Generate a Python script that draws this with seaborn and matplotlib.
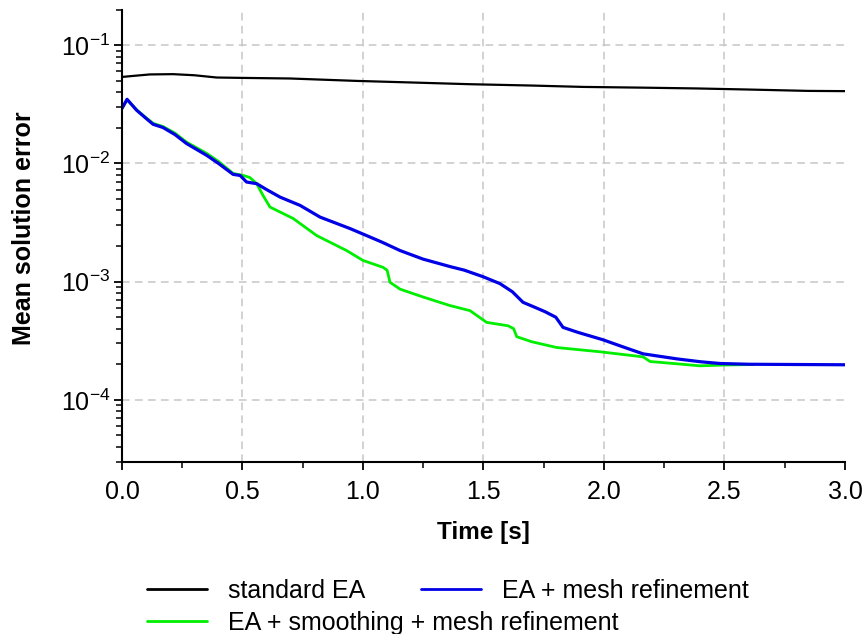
import matplotlib
matplotlib.use("Agg")
import matplotlib.pyplot as plt
import matplotlib.ticker as mticker
import numpy as np
import pandas as pd
import seaborn as sns

# ---- data ----
t_std = [0.0, 0.06, 0.116, 0.212, 0.30, 0.393, 0.502, 0.697, 0.974, 1.20, 1.444, 1.70, 1.913, 2.15, 2.385, 2.60, 2.846, 3.0]
e_std = [0.0538, 0.0552, 0.0565, 0.0568, 0.0556, 0.0532, 0.0528, 0.0522, 0.0498, 0.0483, 0.0467, 0.0455, 0.0443, 0.0437, 0.0430, 0.0421, 0.0410, 0.0408]

t_mesh = [0.0, 0.021, 0.061, 0.10, 0.129, 0.170, 0.22, 0.268, 0.351, 0.40, 0.461, 0.49, 0.517, 0.559,
          0.60, 0.656, 0.739, 0.822, 0.946, 1.015, 1.08, 1.154, 1.249, 1.361, 1.42, 1.498, 1.568,
          1.62, 1.664, 1.71, 1.755, 1.80, 1.830, 1.892, 1.996, 2.08, 2.162, 2.303, 2.40, 2.481, 2.60, 2.80, 3.0]
e_mesh = [0.0292, 0.0348, 0.0281, 0.0240, 0.0214, 0.0201, 0.0175, 0.0147, 0.0117, 0.0100, 0.00807, 0.00790, 0.00695, 0.00673,
          0.00600, 0.00518, 0.00441, 0.00351, 0.00281, 0.00245, 0.00215, 0.00183, 0.00155, 0.00134, 0.00125, 0.00110, 0.000962,
          0.000820, 0.000668, 0.000610, 0.000557, 0.000500, 0.000410, 0.000372, 0.000322, 0.000280, 0.000245, 0.000222, 0.000210, 0.000203, 0.000200, 0.000199, 0.000198]

t_smooth = [0.0, 0.021, 0.061, 0.10, 0.129, 0.170, 0.22, 0.268, 0.351, 0.40, 0.461, 0.502, 0.530, 0.559,
            0.585, 0.614, 0.710, 0.808, 0.932, 1.0, 1.083, 1.100, 1.112, 1.154, 1.25, 1.361, 1.444,
            1.513, 1.602, 1.625, 1.638, 1.70, 1.804, 1.983, 2.162, 2.191, 2.30, 2.398, 2.50, 2.62]
e_smooth = [0.0292, 0.0345, 0.0283, 0.0243, 0.0218, 0.0205, 0.0180, 0.0151, 0.01216, 0.0104, 0.00822, 0.00791, 0.00760, 0.00673,
            0.00536, 0.00427, 0.00342, 0.00245, 0.00183, 0.00151, 0.00132, 0.00125, 0.000987, 0.000863, 0.000740, 0.000627, 0.000568,
            0.000452, 0.000423, 0.000400, 0.000342, 0.000310, 0.000277, 0.000255, 0.000231, 0.000211, 0.000202, 0.000194, 0.000197, 0.000199]

labels = ["standard EA", "EA + smoothing + mesh refinement", "EA + mesh refinement"]
colors = ["#000000", "#00EE00", "#0000E6"]

df = pd.concat([
    pd.DataFrame({"Time": t_std, "Error": e_std, "Method": labels[0]}),
    pd.DataFrame({"Time": t_smooth, "Error": e_smooth, "Method": labels[1]}),
    pd.DataFrame({"Time": t_mesh, "Error": e_mesh, "Method": labels[2]}),
], ignore_index=True)

sns.set_style("ticks")
plt.rcParams["font.family"] = ["Liberation Sans", "DejaVu Sans"]
plt.rcParams["mathtext.fontset"] = "custom"
plt.rcParams["mathtext.rm"] = "Liberation Sans"
plt.rcParams["mathtext.it"] = "Liberation Sans:italic"
plt.rcParams["mathtext.bf"] = "Liberation Sans:bold"
for k in ["text.color", "axes.labelcolor", "xtick.color", "ytick.color", "axes.edgecolor"]:
    plt.rcParams[k] = "black"

fig = plt.figure(figsize=(8.64, 6.34), dpi=100)
ax = fig.add_axes([0.1412, 0.2718, 0.8368, 0.7132])

palette = dict(zip(labels, colors))
sns.lineplot(data=df, x="Time", y="Error", hue="Method", hue_order=labels,
             palette=palette, ax=ax, estimator=None, sort=False, legend=False,
             linewidth=2.0)
ax.lines[0].set_linewidth(1.6)
ax.lines[2].set_linewidth(2.3)

ax.set_yscale("log")
ax.set_xlim(0, 3.0)
ax.set_ylim(3e-5, 0.2)

ax.xaxis.set_major_locator(mticker.MultipleLocator(0.5))
ax.xaxis.set_minor_locator(mticker.MultipleLocator(0.25))
ax.xaxis.set_major_formatter(mticker.FormatStrFormatter("%.1f"))
ax.yaxis.set_major_locator(mticker.LogLocator(base=10, numticks=10))
ax.yaxis.set_minor_locator(mticker.LogLocator(base=10, subs=np.arange(2, 10), numticks=20))
ax.yaxis.set_minor_formatter(mticker.NullFormatter())

ax.grid(True, which="major", color="#c6c6c6", linestyle=(0, (5, 3.5)), linewidth=1.1)
for gl, tv in zip(ax.get_xgridlines(), ax.get_xticks()):
    if tv <= 0.001 or tv >= 2.999:
        gl.set_visible(False)

for s in ["top", "right"]:
    ax.spines[s].set_visible(False)
for s in ["left", "bottom"]:
    ax.spines[s].set_linewidth(1.5)
    ax.spines[s].set_color("black")

ax.tick_params(axis="both", which="major", direction="out", length=6, width=1.3, color="black")
ax.tick_params(axis="both", which="minor", direction="out", length=4, width=1.1, color="black")
ax.tick_params(axis="x", which="major", labelsize=18, pad=7)
ax.tick_params(axis="y", which="major", labelsize=18, pad=2.5)

ax.set_xlabel("Time [s]", fontsize=17.5, fontweight="bold")
ax.set_ylabel("Mean solution error", fontsize=18, fontweight="bold")
ax.xaxis.set_label_coords(0.5, -0.131)
ax.yaxis.set_label_coords(-0.119, 0.516)

h = {lab: plt.Line2D([], [], color=c, linewidth=2.0) for lab, c in zip(labels, colors)}
leg_kw = dict(loc="center left", frameon=False, fontsize=18, handlelength=2.4,
              handletextpad=0.84, columnspacing=2.25, borderpad=0, borderaxespad=0)
leg1 = fig.legend([h[labels[0]], h[labels[2]]], [labels[0], labels[2]], ncol=2,
                  bbox_to_anchor=(146.7 / 864, 1 - 591 / 634), **leg_kw)
leg2 = fig.legend([h[labels[1]]], [labels[1]], ncol=1,
                  bbox_to_anchor=(146.7 / 864, 1 - 623 / 634), **leg_kw)

fig.savefig("out.png", dpi=100)
